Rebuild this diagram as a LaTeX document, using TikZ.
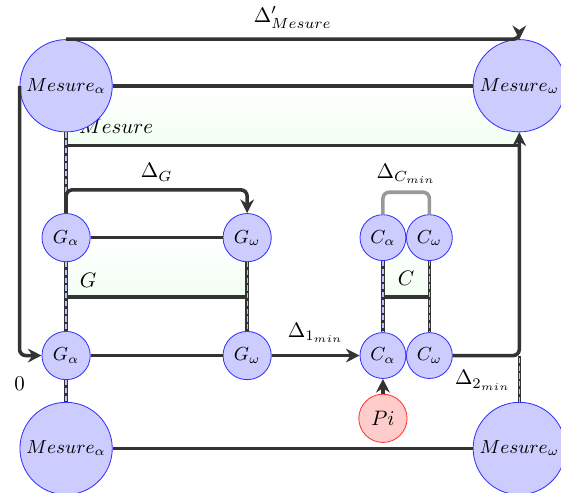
\documentclass[tikz,border=0pt]{standalone}
\usetikzlibrary{positioning,arrows.meta,backgrounds}

\begin{document}
\begin{tikzpicture}[
  evt/.style={circle,draw=blue!80,fill=blue!20,inner sep=0pt,font=\small},
  grand/.style={evt,minimum size=1.55cm},
  petit/.style={evt,minimum size=0.81cm},
  trait/.style={line width=1.7pt,draw=black!80},
  fleche/.style={trait,rounded corners=3pt,-{Stealth[length=6.5pt,width=6.5pt]}},
  gris/.style={line width=1.7pt,draw=black!40,rounded corners=3pt},
  jalon/.style={line width=1.7pt,draw=black!80,postaction={draw=blue!25,line width=0.6pt,dash pattern=on 2.5pt off 1.2pt}},
  zone/.style={top color=white,bottom color=green!5}
]
\useasboundingbox (0,0) rectangle (9.42,8.27);

\node[grand] (Ma1) at (1.11,6.83) {$Mesure_\alpha$};
\node[grand] (Mw1) at (8.72,6.83) {$Mesure_\omega$};
\node[grand] (Ma2) at (1.11,0.74) {$Mesure_\alpha$};
\node[grand] (Mw2) at (8.72,0.74) {$Mesure_\omega$};
\foreach \y/\r in {4.28/1,2.30/2}{
  \node[petit] (Ga\r) at (1.11,\y) {$G_\alpha$};
  \node[petit] (Gw\r) at (4.15,\y) {$G_\omega$};
  \node[petit,minimum size=0.77cm] (Ca\r) at (6.43,\y) {$C_\alpha$};
  \node[petit,minimum size=0.77cm] (Cw\r) at (7.21,\y) {$C_\omega$};
}
\node[petit,draw=red!80,fill=red!20,font=\normalsize,below=0.25cm of Ca2] (Pi) {$Pi$};

\coordinate (mesG) at (1.11,5.83);
\coordinate (mesD) at (8.72,5.83);
\coordinate (gG) at (1.11,3.28);
\coordinate (gD) at (4.15,3.28);
\coordinate (cG) at (6.43,3.28);
\coordinate (cD) at (7.21,3.28);
\coordinate (coinD) at (Mw2.north |- Cw2.east);

% zones
\begin{scope}[on background layer]
  \shade[zone] (Ma1.center) rectangle (mesD);
  \shade[zone] (Ga1.center) rectangle (gD);
  \shade[zone] (Ca1.center) rectangle (cD);
  \node (lM) at (1.95,6.15) {$Mesure$};
  \node (lG) at (1.48,3.56) {$G$};
  \node (lC) at (6.82,3.60) {$C$};
\end{scope}
\draw[trait] (mesG) -- (mesD);
\draw[trait] (gG) -- (gD);
\draw[trait] (cG) -- (cD);

% jalons
\foreach \a/\b in {Ma1/Ga1,Ga1/Ga2,Ga2/Ma2,Gw1/Gw2,Ca1/Ca2,Cw1/Cw2}{
  \draw[jalon] (\a.south) -- (\b.north);
}
\draw[jalon] (Mw2.north) -- (coinD);

\draw[trait] (Ma1) -- (Mw1);
\draw[trait] (Ma2) -- (Mw2);
\draw[trait] (Ga1) -- (Gw1);
\draw[trait] (Ga2) -- (Gw2);
\draw[fleche] (Gw2) -- node[above=2pt] (d1) {$\Delta_{1_{min}}$} (Ca2);
\draw[fleche] (Pi) -- (Ca2);
\draw[fleche] (Cw2.east) -| node[pos=0.5,below left,yshift=-3pt] (d2) {$\Delta_{2_{min}}$} (Mw1.south);
\draw[fleche] (Ga1.north) -- ++(0,0.39) -| node[pos=0.25,above] (dG) {$\Delta_G$} (Gw1.north);
\draw[gris] (Ca1.north) -- ++(0,0.37) -| node[pos=0.25,above] (dC) {$\Delta_{C_{min}}$} (Cw1.north);
\draw[fleche] (Ma1.north) -| node[pos=0.25,above=1pt] (dM) {$\Delta'_{Mesure}$} (Mw1.north);
\draw[fleche] (Ma1.west) |- node[pos=0.5,below=6pt] (zero) {$0$} (Ga2.west);
\end{tikzpicture}
\end{document}
